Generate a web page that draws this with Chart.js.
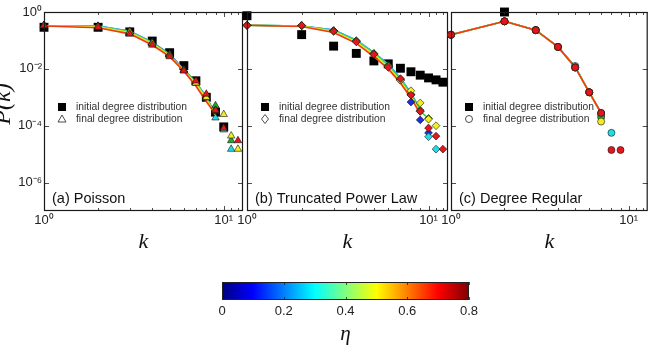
<!DOCTYPE html>
<html>
<head>
<meta charset="utf-8">
<script src="https://cdn.jsdelivr.net/npm/chart.js@4.4.0/dist/chart.umd.min.js"></script>
<style>
  html, body { margin: 0; padding: 0; background: #fff; }
  #wrap { position: relative; width: 654px; height: 347px; overflow: hidden; }
  #wrap canvas { position: absolute; left: 0; top: 0; }
</style>
</head>
<body>
<div id="wrap">
  <canvas id="panelA" width="654" height="347"></canvas>
  <canvas id="panelB" width="654" height="347"></canvas>
  <canvas id="panelC" width="654" height="347"></canvas>
  <canvas id="colorbar" width="654" height="347"></canvas>
</div>
<script>
// degrees k = 1..12
const kAll = [1, 2, 3, 4, 5, 6, 7, 8, 9, 10, 11, 12];
const xTickValues = [1, 10];
const xTickLabels = ['10⁰', '10¹'];
const yTickValues = [1, 1e-2, 1e-4, 1e-6];
const yTickLabels = ['10⁰', '10⁻²', '10⁻⁴', '10⁻⁶'];
const etaTicks = [0, 0.2, 0.4, 0.6, 0.8];
const etaTickLabels = ['0', '0.2', '0.4', '0.6', '0.8'];

// (a) Poisson -- rows: blue, cyan, green, yellow, red ; columns k = 1..12
const poissonInitial = [0.29, 0.29, 0.20, 0.095, 0.037, 0.013, 0.0038, 0.0010, 0.0003, 0.000091];
const poissonTheory = [
  [0.33, 0.32, 0.21, 0.086, 0.033, 0.0094, 0.0034, 0.00100, 0.00025],
  [0.33, 0.32, 0.21, 0.085, 0.032, 0.0093, 0.0034, 0.00100, 0.00025],
  [0.33, 0.31, 0.20, 0.081, 0.031, 0.0089, 0.0032, 0.00095, 0.00024],
  [0.32, 0.30, 0.19, 0.078, 0.029, 0.0085, 0.0030, 0.00089, 0.00022],
  [0.32, 0.28, 0.17, 0.069, 0.027, 0.0083, 0.0025, 0.00071, 0.00025]
];
const poissonFinal = [
  [0.33, 0.31, 0.20, 0.083, 0.032, 0.0091, 0.0033, 0.0011, 0.00032, null, null, null],
  [0.33, 0.32, 0.21, 0.085, 0.032, 0.0093, 0.0034, 0.00095, 0.00019, 0.000072, 0.000015, null],
  [0.33, 0.31, 0.20, 0.081, 0.031, 0.0089, 0.0032, 0.0010, 0.00051, null, 0.000030, null],
  [0.33, 0.31, 0.20, 0.079, 0.030, 0.0087, 0.0032, 0.0010, 0.00035, 0.00025, 0.000044, 0.000015],
  [0.34, 0.29, 0.17, 0.069, 0.027, 0.0085, 0.0038, 0.0013, 0.00035, 0.000083, null, 0.000030]
];

// (b) Truncated power law
const tplInitial = [0.74, 0.16, 0.063, 0.035, 0.019, 0.015, 0.0105, 0.0079, 0.0060, 0.0048, 0.0041, 0.0034];
const tplTheory = [
  [0.34, 0.32, 0.23, 0.102, 0.037, 0.0145, 0.0047, 0.0014, 0.00035],
  [0.34, 0.32, 0.23, 0.102, 0.037, 0.0145, 0.0047, 0.0014, 0.00035],
  [0.34, 0.32, 0.22, 0.095, 0.035, 0.0132, 0.0042, 0.00126, 0.00032, 0.00018],
  [0.34, 0.32, 0.21, 0.089, 0.032, 0.0117, 0.0037, 0.00112, 0.00028],
  [0.34, 0.31, 0.19, 0.079, 0.027, 0.0100, 0.0032, 0.00095, 0.00026]
];
const tplFinal = [
  [0.34, 0.33, 0.22, 0.095, 0.034, 0.0126, 0.0040, 0.00068, 0.00016, 0.000056, null, null],
  [0.34, 0.33, 0.22, 0.098, 0.035, 0.0132, 0.0042, 0.00126, 0.00032, 0.000041, 0.000015, null],
  [0.34, 0.33, 0.22, 0.095, 0.034, 0.0126, 0.0044, 0.00126, 0.00035, 0.00018, null, null],
  [0.34, 0.33, 0.21, 0.093, 0.033, 0.0120, 0.0040, 0.0017, 0.00063, 0.00017, 0.00010, null],
  [0.34, 0.34, 0.21, 0.089, 0.032, 0.0112, 0.0045, 0.0012, 0.00032, 0.000083, 0.000043, 0.000015]
];

// (c) Degree regular
const regularInitial = [null, 1.0];
const regularTheory = [
  [0.158, 0.47, 0.23, 0.059, 0.0118, 0.0015, 0.00028],
  [0.158, 0.47, 0.23, 0.059, 0.0118, 0.0015, 0.00028],
  [0.158, 0.47, 0.23, 0.059, 0.0115, 0.0015, 0.00028],
  [0.158, 0.47, 0.23, 0.059, 0.0113, 0.0015, 0.00028],
  [0.158, 0.47, 0.23, 0.059, 0.0112, 0.0015, 0.00028]
];
const regularFinal = [
  [0.158, 0.47, 0.23, 0.059, 0.0112, 0.0015, 0.00028, null, null],
  [0.158, 0.47, 0.23, 0.059, 0.0126, 0.0015, 0.00025, 0.000056, null],
  [0.158, 0.47, 0.23, 0.059, 0.0112, 0.0015, 0.00020, null, null],
  [0.158, 0.47, 0.23, 0.059, 0.0112, 0.0015, 0.00014, null, null],
  [0.158, 0.47, 0.23, 0.059, 0.0112, 0.0015, 0.00028, 0.000014, 0.000014]
];

const markerColors = ['#1c30d6', '#22dbe8', '#1fab2d', '#f0ee1e', '#e3161b'];
const lineColors = ['#2040e0', '#2ac8f0', '#3cd23c', '#e8e424', '#f03a12'];
const sans = "'Liberation Sans', Arial, sans-serif";
const serif = "'Liberation Serif', 'Times New Roman', serif";

function pts(row) {
  const out = [];
  row.forEach((v, i) => { if (v != null) out.push({ x: kAll[i], y: v }); });
  return out;
}

function buildDatasets(initial, theory, finals, marker, radius) {
  const ds = [];
  ds.push({ data: pts(initial), showLine: false, pointStyle: 'rect', pointRadius: 6.3,
    backgroundColor: '#000', borderColor: '#000', borderWidth: 0, order: 30, clip: false });
  theory.forEach((row, s) => ds.push({ data: pts(row), showLine: true, pointRadius: 0,
    borderColor: lineColors[s], borderWidth: 1.6, order: 20 - s, clip: false }));
  finals.forEach((row, s) => ds.push({ data: pts(row), showLine: false, pointStyle: marker,
    pointRadius: radius, backgroundColor: markerColors[s], borderColor: '#111',
    borderWidth: 0.6, order: 10 - s, clip: false }));
  return ds;
}

function legendMarker(ctx, style, x, y) {
  ctx.beginPath();
  if (style === 'triangle') {
    ctx.moveTo(x, y - 4); ctx.lineTo(x + 4, y + 3); ctx.lineTo(x - 4, y + 3); ctx.closePath();
  } else if (style === 'rectRot') {
    ctx.moveTo(x, y - 4.5); ctx.lineTo(x + 3.5, y); ctx.lineTo(x, y + 4.5); ctx.lineTo(x - 3.5, y); ctx.closePath();
  } else {
    ctx.arc(x, y, 3.5, 0, Math.PI * 2);
  }
  ctx.fillStyle = '#fff'; ctx.fill();
  ctx.strokeStyle = '#222'; ctx.lineWidth = 0.8; ctx.stroke();
}

function decor(cfg) {
  return {
    id: 'decor',
    afterDraw(chart) {
      const { ctx, chartArea: a, scales: { x, y } } = chart;
      ctx.save();
      ctx.strokeStyle = '#222';
      ctx.lineWidth = 0.8;
      ctx.beginPath();
      for (let k = 1; k <= 12; k++) {
        const px = Math.round(x.getPixelForValue(k)) + 0.5;
        const len = (k === 1 || k === 10) ? 5 : 3;
        ctx.moveTo(px, a.bottom); ctx.lineTo(px, a.bottom - len);
        ctx.moveTo(px, a.top); ctx.lineTo(px, a.top + len);
      }
      yTickValues.forEach(v => {
        const py = Math.round(y.getPixelForValue(v)) + 0.5;
        ctx.moveTo(a.left, py); ctx.lineTo(a.left + 5, py);
        ctx.moveTo(a.right, py); ctx.lineTo(a.right - 5, py);
      });
      ctx.stroke();
      ctx.lineWidth = 1.2;
      ctx.strokeStyle = '#1a1a1a';
      ctx.strokeRect(a.left + 0.5, a.top + 0.5, a.width - 1, a.height - 1);

      // in-plot legend
      const lx = a.left + 18, tx = a.left + 32;
      ctx.fillStyle = '#000';
      ctx.fillRect(lx - 4, 103, 8, 8);
      legendMarker(ctx, cfg.marker, lx, 119);
      ctx.fillStyle = '#333';
      ctx.font = '10.3px ' + sans;
      ctx.textBaseline = 'middle';
      ctx.textAlign = 'left';
      ctx.fillText('initial degree distribution', tx, 107);
      ctx.fillText('final degree distribution', tx, 119);

      ctx.fillStyle = '#111';
      ctx.font = '14.5px ' + sans;
      ctx.fillText(cfg.label, a.left + 8, 199);

      if (cfg.yTitle) {
        ctx.translate(4, 104);
        ctx.rotate(-Math.PI / 2);
        ctx.textAlign = 'center';
        ctx.font = 'italic 24px ' + serif;
        ctx.fillText('P(k)', 0, 0);
      }
      ctx.restore();
    }
  };
}

function panel(id, left, right, datasets, cfg) {
  const showY = !!cfg.yTitle;
  return new Chart(document.getElementById(id), {
    type: 'scatter',
    data: { datasets },
    options: {
      responsive: false,
      animation: false,
      layout: { padding: { left: showY ? 0 : left, right: 654 - right, top: 12, bottom: 92 } },
      plugins: { legend: { display: false }, tooltip: { enabled: false } },
      scales: {
        x: {
          type: 'logarithmic', min: 1, max: 12.8,
          afterBuildTicks: s => { s.ticks = xTickValues.map(v => ({ value: v })); },
          ticks: { callback: (v, i) => xTickLabels[i], autoSkip: false, maxRotation: 0,
            padding: 2, color: '#222', font: { family: sans, size: 13 } },
          grid: { display: false, drawTicks: false },
          border: { display: false },
          title: { display: true, text: 'k', color: '#111', padding: 0,
            font: { family: serif, style: 'italic', size: 22 } },
          afterFit: s => { s.height = 44; }
        },
        y: {
          type: 'logarithmic', min: 1e-7, max: 1, display: showY,
          afterBuildTicks: s => { s.ticks = yTickValues.map(v => ({ value: v })); },
          ticks: { callback: (v, i) => yTickLabels[i], padding: 2, color: '#222',
            font: { family: sans, size: 13 } },
          grid: { display: false, drawTicks: false },
          border: { display: false },
          afterFit: s => { s.width = showY ? left : 0; }
        }
      }
    },
    plugins: [decor(cfg)]
  });
}

panel('panelA', 44, 243, buildDatasets(poissonInitial, poissonTheory, poissonFinal, 'triangle', 4.3),
  { marker: 'triangle', label: '(a) Poisson', yTitle: true });
panel('panelB', 247, 448, buildDatasets(tplInitial, tplTheory, tplFinal, 'rectRot', 3.9),
  { marker: 'rectRot', label: '(b) Truncated Power Law' });
panel('panelC', 451, 651, buildDatasets(regularInitial, regularTheory, regularFinal, 'circle', 3.5),
  { marker: 'circle', label: '(c) Degree Regular' });

// colour bar
const jetStops = [[0, '#000080'], [0.125, '#0000ff'], [0.375, '#00ffff'], [0.625, '#ffff00'], [0.875, '#ff0000'], [1, '#800000']];
const colorbarPlugin = {
  id: 'colorbarFill',
  beforeDatasetsDraw(chart) {
    const { ctx, chartArea: a, scales: { x } } = chart;
    ctx.save();
    const g = ctx.createLinearGradient(a.left, 0, a.right, 0);
    jetStops.forEach(([p, c]) => g.addColorStop(p, c));
    ctx.fillStyle = g;
    ctx.fillRect(a.left, a.top, a.width, a.height);
    ctx.strokeStyle = '#222';
    ctx.lineWidth = 0.8;
    ctx.beginPath();
    etaTicks.forEach(v => {
      const px = Math.round(x.getPixelForValue(v)) + 0.5;
      ctx.moveTo(px, a.top); ctx.lineTo(px, a.top + 3);
      ctx.moveTo(px, a.bottom); ctx.lineTo(px, a.bottom - 3);
    });
    ctx.stroke();
    ctx.lineWidth = 1;
    ctx.strokeRect(a.left + 0.5, a.top + 0.5, a.width - 1, a.height - 1);
    ctx.restore();
  }
};
new Chart(document.getElementById('colorbar'), {
  type: 'scatter',
  data: { datasets: [] },
  options: {
    responsive: false,
    animation: false,
    layout: { padding: { left: 222, right: 654 - 469, top: 282, bottom: 0 } },
    plugins: { legend: { display: false }, tooltip: { enabled: false } },
    scales: {
      x: {
        type: 'linear', min: 0, max: 0.8,
        afterBuildTicks: s => { s.ticks = etaTicks.map(v => ({ value: v })); },
        ticks: { callback: (v, i) => etaTickLabels[i], autoSkip: false, maxRotation: 0,
          padding: 4, color: '#222', font: { family: sans, size: 13 } },
        grid: { display: false, drawTicks: false },
        border: { display: false },
        title: { display: true, text: 'η', color: '#111', padding: 0,
          font: { family: serif, style: 'italic', size: 21 } },
        afterFit: s => { s.height = 47; }
      },
      y: { display: false, min: 0, max: 1 }
    }
  },
  plugins: [colorbarPlugin]
});
</script>
</body>
</html>
